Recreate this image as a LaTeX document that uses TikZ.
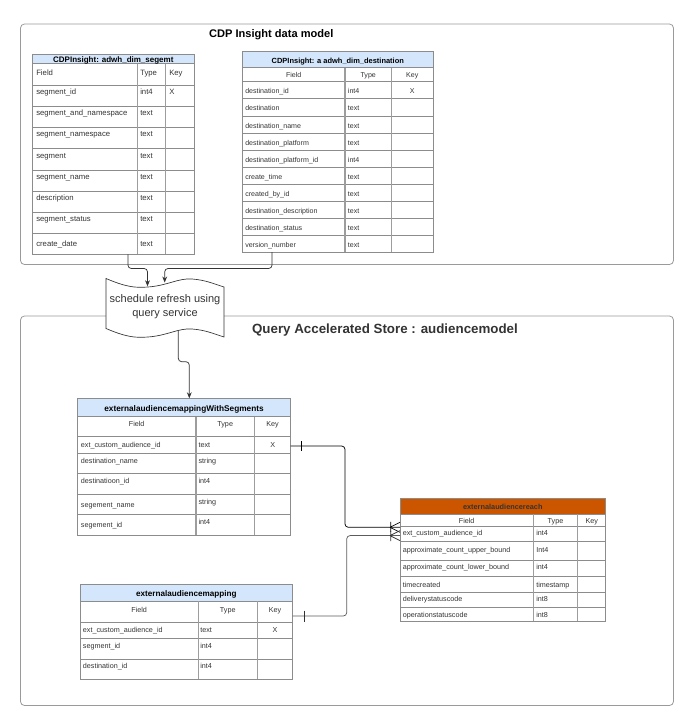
\documentclass[tikz,border=0pt]{standalone}
\usepackage{fontspec}
\setmainfont{Liberation Sans}
\usepackage{tikz}
\usetikzlibrary{arrows.meta}
\usepackage{xcolor}
\definecolor{hdrblue}{HTML}{D4E6FB}
\definecolor{hdrorange}{HTML}{CC5500}
\definecolor{txtgray}{HTML}{333333}
\definecolor{linegray}{HTML}{8C8C8C}
\definecolor{boxgray}{HTML}{9A9A9A}
\tikzset{
  boxframe/.style={draw=boxgray, line width=0.6pt, rounded corners=3pt},
  tblframe/.style={draw=linegray, line width=0.5pt},
  colline/.style={draw=linegray!85, line width=0.9pt},
  rowline/.style={draw=linegray, line width=0.45pt},
  celltxt/.style={anchor=mid west, inner sep=0pt, text=txtgray, font=\fontsize{#1}{#1}\selectfont},
  celltxt/.default=5.4,
  ctrtxt/.style={celltxt=#1, anchor=mid},
  ctrtxt/.default=5.4,
  hdrtxt/.style={anchor=mid, inner sep=0pt, text=black, font=\bfseries\fontsize{#1}{#1}\selectfont},
  conn/.style={draw=txtgray, line width=0.55pt, rounded corners=2.5pt},
  arrowed/.style={-{Stealth[length=4.5pt,width=3.6pt]}},
}

\begin{document}
\begin{tikzpicture}[x=0.75pt,y=0.75pt,yscale=-1,xscale=1]
\useasboundingbox (0,0) rectangle (697,722);

%Containers
\draw[boxframe] (20.5,24) rectangle (673.5,264.5);
\draw[boxframe] (20.5,316) rectangle (673.5,705.5);
\node (cdpTitle) [hdrtxt=8.3] at (271.3,34) {CDP Insight data model};
\node (qasTitle) [hdrtxt=10, text=txtgray] at (385,329.5) {Query Accelerated Store : audiencemodel};

%Table: adwh_dim_segemt
\draw[tblframe, fill=hdrblue] (32.7,54.3) rectangle (194,63.7);
\draw[tblframe] (32.7,63.7) rectangle (194,254.3);
\draw[rowline] (32.7,85) -- (194,85) (32.7,106) -- (194,106) (32.7,127.3) -- (194,127.3) (32.7,148.3) -- (194,148.3)
  (32.7,170) -- (194,170) (32.7,191.3) -- (194,191.3) (32.7,212.7) -- (194,212.7) (32.7,233.3) -- (194,233.3);
\draw[colline] (137.7,63.7) -- (137.7,254.3) (165.7,63.7) -- (165.7,254.3);
\node (segHead) [hdrtxt=6] at (113.3,59) {CDPInsight: adwh\_dim\_segemt};
\node (segF0) [celltxt=5.8] at (36,71.7) {Field};
\node (segT0) [celltxt=5.8] at (140,71.7) {Type};
\node (segK0) [celltxt=5.8] at (169,71.7) {Key};
\node (segF1) [celltxt=5.8] at (36,91) {segment\_id};
\node (segT1) [celltxt=5.8] at (140,91) {int4};
\node (segK1) [celltxt=5.8] at (169,91) {X};
\node (segF2) [celltxt=5.8] at (36,112.3) {segment\_and\_namespace};
\node (segT2) [celltxt=5.8] at (140,112.3) {text};
\node (segF3) [celltxt=5.8] at (36,133.3) {segment\_namespace};
\node (segT3) [celltxt=5.8] at (140,133.3) {text};
\node (segF4) [celltxt=5.8] at (36,155) {segment};
\node (segT4) [celltxt=5.8] at (140,155) {text};
\node (segF5) [celltxt=5.8] at (36,175.7) {segment\_name};
\node (segT5) [celltxt=5.8] at (140,175.7) {text};
\node (segF6) [celltxt=5.8] at (36,196.7) {description};
\node (segT6) [celltxt=5.8] at (140,196.7) {text};
\node (segF7) [celltxt=5.8] at (36,218.3) {segment\_status};
\node (segT7) [celltxt=5.8] at (140,218.3) {text};
\node (segF8) [celltxt=5.8] at (36,242.7) {create\_date};
\node (segT8) [celltxt=5.8] at (140,242.7) {text};

%Table: adwh_dim_destination
\draw[tblframe, fill=hdrblue] (242.3,51.7) rectangle (433.3,67.7);
\draw[tblframe] (242.3,67.7) rectangle (433.3,252);
\draw[rowline] (242.3,81.7) -- (433.3,81.7) (242.3,98.7) -- (433.3,98.7) (242.3,116) -- (433.3,116) (242.3,133.3) -- (433.3,133.3)
  (242.3,150) -- (433.3,150) (242.3,167) -- (433.3,167) (242.3,184) -- (433.3,184) (242.3,201.3) -- (433.3,201.3)
  (242.3,218) -- (433.3,218) (242.3,235.3) -- (433.3,235.3);
\draw[colline] (345,67.7) -- (345,252) (391.3,67.7) -- (391.3,252);
\node (dstHead) [hdrtxt=5.6] at (337.8,59.7) {CDPInsight: a adwh\_dim\_destination};
\node (dstF0) [ctrtxt=5.3] at (293.7,74.2) {Field};
\node (dstT0) [ctrtxt=5.3] at (368.2,74.2) {Type};
\node (dstK0) [ctrtxt=5.3] at (412.3,74.2) {Key};
\node (dstF1) [celltxt=5.3] at (245,90.2) {destination\_id};
\node (dstT1) [celltxt=5.3] at (347.7,90.2) {int4};
\node (dstK1) [ctrtxt=5.3] at (412.3,90.2) {X};
\node (dstF2) [celltxt=5.3] at (245,107.3) {destination};
\node (dstT2) [celltxt=5.3] at (347.7,107.3) {text};
\node (dstF3) [celltxt=5.3] at (245,124.7) {destination\_name};
\node (dstT3) [celltxt=5.3] at (347.7,124.7) {text};
\node (dstF4) [celltxt=5.3] at (245,141.7) {destination\_platform};
\node (dstT4) [celltxt=5.3] at (347.7,141.7) {text};
\node (dstF5) [celltxt=5.3] at (245,158.5) {destination\_platform\_id};
\node (dstT5) [celltxt=5.3] at (347.7,158.5) {int4};
\node (dstF6) [celltxt=5.3] at (245,175.5) {create\_time};
\node (dstT6) [celltxt=5.3] at (347.7,175.5) {text};
\node (dstF7) [celltxt=5.3] at (245,192.7) {created\_by\_id};
\node (dstT7) [celltxt=5.3] at (347.7,192.7) {text};
\node (dstF8) [celltxt=5.3] at (245,209.7) {destination\_description};
\node (dstT8) [celltxt=5.3] at (347.7,209.7) {text};
\node (dstF9) [celltxt=5.3] at (245,226.7) {destination\_status};
\node (dstT9) [celltxt=5.3] at (347.7,226.7) {text};
\node (dstF10) [celltxt=5.3] at (245,243.7) {version\_number};
\node (dstT10) [celltxt=5.3] at (347.7,243.7) {text};

%Table: externalaudiencemappingWithSegments
\draw[tblframe, fill=hdrblue] (77.3,398.3) rectangle (290.7,416.7);
\draw[tblframe] (77.3,416.7) rectangle (290.7,535);
\draw[rowline] (77.3,436) -- (290.7,436) (77.3,453) -- (290.7,453) (77.3,473.3) -- (290.7,473.3)
  (77.3,494) -- (290.7,494) (77.3,514.3) -- (290.7,514.3);
\draw[colline] (196,416.7) -- (196,535) (254.3,416.7) -- (254.3,535);
\node (swsHead) [hdrtxt=6.2] at (184,407.5) {externalaudiencemappingWithSegments};
\node (swsF0) [ctrtxt] at (136.7,422.5) {Field};
\node (swsT0) [ctrtxt] at (225.2,422.5) {Type};
\node (swsK0) [ctrtxt] at (272.5,422.5) {Key};
\node (swsF1) [celltxt] at (80.7,443.7) {ext\_custom\_audience\_id};
\node (swsT1) [celltxt] at (198.3,443.7) {text};
\node (swsK1) [ctrtxt] at (272.7,443.7) {X};
\node (swsF2) [celltxt] at (80.7,459.5) {destination\_name};
\node (swsT2) [celltxt] at (198.3,459.5) {string};
\node (swsF3) [celltxt] at (80.7,479.8) {destinatioon\_id};
\node (swsT3) [celltxt] at (198.3,479.8) {int4};
\node (swsF4) [celltxt] at (80.7,504.3) {segement\_name};
\node (swsT4) [celltxt] at (198.3,501.3) {string};
\node (swsF5) [celltxt] at (80.7,523.6) {segement\_id};
\node (swsT5) [celltxt] at (198.3,521.3) {int4};

%Table: externalaudiencereach
\draw[tblframe, fill=hdrorange] (400,498.3) rectangle (605.7,514);
\draw[tblframe] (400,514) rectangle (605.7,621);
\draw[rowline] (400,526) -- (605.7,526) (400,541.7) -- (605.7,541.7) (400,560) -- (605.7,560)
  (400,576.7) -- (605.7,576.7) (400,592.3) -- (605.7,592.3) (400,607.7) -- (605.7,607.7);
\draw[colline] (533.3,514) -- (533.3,621) (577.7,514) -- (577.7,621);
\node (rchHead) [hdrtxt=5.5, text=txtgray] at (502.8,506.2) {externalaudiencereach};
\node (rchF0) [ctrtxt] at (466.7,520) {Field};
\node (rchT0) [ctrtxt] at (555.5,520) {Type};
\node (rchK0) [ctrtxt] at (591.7,520) {Key};
\node (rchF1) [celltxt] at (402.5,531.9) {ext\_custom\_audience\_id};
\node (rchT1) [celltxt] at (536,531.9) {int4};
\node (rchF2) [celltxt] at (402.5,548.5) {approximate\_count\_upper\_bound};
\node (rchT2) [celltxt] at (536,548.5) {Int4};
\node (rchF3) [celltxt] at (402.5,566.2) {approximate\_count\_lower\_bound};
\node (rchT3) [celltxt] at (536,566.2) {int4};
\node (rchF4) [celltxt] at (402.5,583.5) {timecreated};
\node (rchT4) [celltxt] at (536,583.5) {timestamp};
\node (rchF5) [celltxt] at (402.5,598) {deliverystatuscode};
\node (rchT5) [celltxt] at (536,598) {int8};
\node (rchF6) [celltxt] at (402.5,613.5) {operationstatuscode};
\node (rchT6) [celltxt] at (536,613.5) {int8};

%Table: externalaudiencemapping
\draw[tblframe, fill=hdrblue] (80,584.3) rectangle (292.7,601);
\draw[tblframe] (80,601) rectangle (292.7,679.3);
\draw[rowline] (80,622.7) -- (292.7,622.7) (80,638.3) -- (292.7,638.3) (80,659) -- (292.7,659);
\draw[colline] (198.3,601) -- (198.3,679.3) (257.3,601) -- (257.3,679.3);
\node (mapHead) [hdrtxt=6.1] at (186.3,592.7) {externalaudiencemapping};
\node (mapF0) [ctrtxt] at (139.2,608.5) {Field};
\node (mapT0) [ctrtxt] at (227.8,608.5) {Type};
\node (mapK0) [ctrtxt] at (275,608.5) {Key};
\node (mapF1) [celltxt] at (82.7,628.5) {ext\_custom\_audience\_id};
\node (mapT1) [celltxt] at (200,628.5) {text};
\node (mapK1) [ctrtxt] at (275,628.5) {X};
\node (mapF2) [celltxt] at (82.7,645.2) {segment\_id};
\node (mapT2) [celltxt] at (200,645.2) {int4};
\node (mapF3) [celltxt] at (82.7,665.2) {destination\_id};
\node (mapT3) [celltxt] at (200,665.2) {int4};

%Shape: Tape (schedule refresh)
\draw[draw=txtgray, line width=0.5pt, fill=white] (106,278.5) .. controls (126,287) and (135,288) .. (148,287)
  .. controls (168,285.5) and (178,278) .. (192,279) .. controls (206,280) and (214,284) .. (224,287)
  -- (224,337) .. controls (214,334) and (206,330) .. (192,329) .. controls (178,328) and (168,335.5) .. (148,337)
  .. controls (135,338) and (126,337) .. (106,328.5) -- cycle;
\node (refreshTxt) [anchor=center, inner sep=0pt, text=txtgray, align=center, font=\fontsize{8.25}{10.5}\selectfont] at (165,306.8) {schedule refresh using\\query service};

%Connectors
\coordinate (segBot) at (128,254.3);
\coordinate (dstBot) at (272,252);
\coordinate (tapeIn1) at (147.5,286.3);
\coordinate (tapeIn2) at (164.7,282.5);
\coordinate (tapeOut) at (178.3,331);
\coordinate (swsTop) at (189.3,398.3);
\coordinate (swsOut) at (290.7,446);
\coordinate (mapOut) at (292.7,616);
\coordinate (rchIn1) at (400,527.3);
\coordinate (rchIn2) at (400,535.6);

\draw[conn, arrowed] (segBot) -- ++(0,14.2) -| (tapeIn1);
\draw[conn, arrowed] (dstBot) -- ++(0,16.5) -| (tapeIn2);
\draw[conn, arrowed] (tapeOut) -- ++(0,30.7) -| (swsTop);
\draw[conn, draw=black] (swsOut) -- ++(54.3,0) |- (rchIn1);
\draw[conn, draw=txtgray!80] (mapOut) -- ++(54,0) |- (rchIn2);
% ER ends
\draw[draw=black, line width=0.55pt] (swsOut) ++(10.3,-5) -- ++(0,10);
\draw[draw=txtgray, line width=0.55pt] (mapOut) ++(11.6,-5.5) -- ++(0,11);
\draw[draw=black, line width=0.55pt] (rchIn1) ++(-10,0) -- ++(10,-5) (rchIn1) ++(-10,0) -- ++(10,5)
  (rchIn1) ++(-9.3,-5.5) -- ++(0,10);
\draw[draw=txtgray, line width=0.55pt] (rchIn2) ++(-10,0) -- ++(10,-5) (rchIn2) ++(-10,0) -- ++(10,5)
  (rchIn2) ++(-9.3,-4.5) -- ++(0,10);

\end{tikzpicture}
\end{document}
